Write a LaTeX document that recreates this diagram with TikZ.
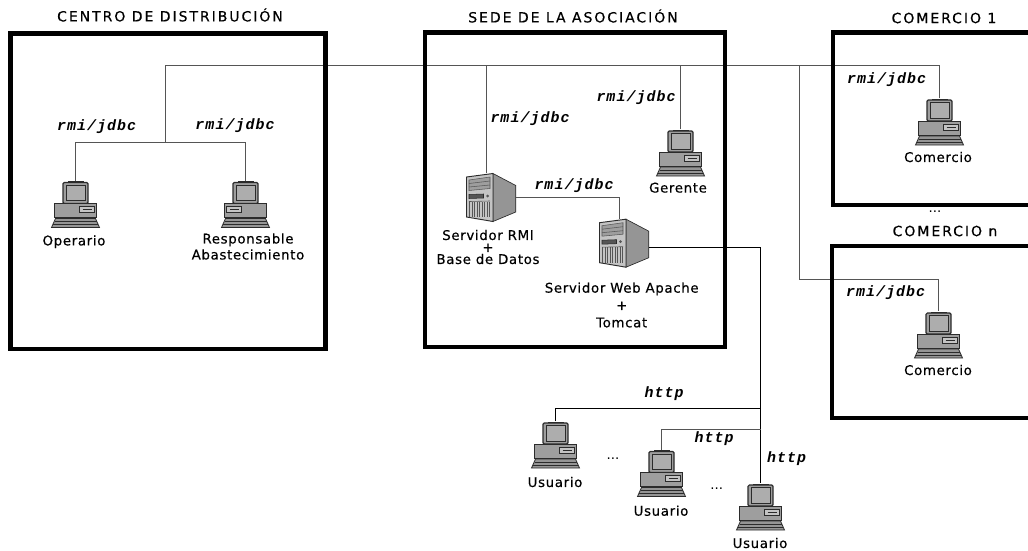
\documentclass[tikz,border=0pt]{standalone}
\usepackage{fontspec}
\setmainfont{DejaVu Sans}
\newfontfamily\protofont[LetterSpace=7]{Liberation Mono}
\newfontfamily\titlefont[LetterSpace=14,FakeBold=0.4]{DejaVu Sans}
\newfontfamily\capfont[LetterSpace=5,FakeBold=0.4]{DejaVu Sans}
\usepackage{tikz}

\definecolor{linegray}{HTML}{555555}
\definecolor{icongray}{HTML}{2B2B2B}
\definecolor{bodygray}{HTML}{9E9E9E}
\definecolor{screengray}{HTML}{ADADAD}
\definecolor{sidegray}{HTML}{959595}
\definecolor{frontgray}{HTML}{C4C4C4}

\tikzset{
	link/.style={color=linegray, line width=0.8pt},
	linkdark/.style={color=black, line width=0.75pt},
	areabox/.style={color=black, line width=3.2pt, line join=miter},
	area/.style={font=\titlefont\fontsize{10.5}{12}\selectfont},
	caption/.style={font=\capfont\fontsize{10}{12}\selectfont, align=center, inner sep=0pt},
	proto/.style={font=\protofont\bfseries\itshape\fontsize{11.2}{13}\selectfont, inner sep=0pt},
	dots/.style={font=\fontsize{10}{10}\selectfont, inner sep=0pt},
	pc/.pic={
		\node[minimum width=36pt, minimum height=35pt, inner sep=0pt] (-icon) at (0,0) {};
		% monitor
		\fill[icongray] (-8,-23.5) rectangle (8,-21);
		\draw[draw=icongray, fill=bodygray, line width=0.9pt, rounded corners=1pt] (-12.5,-22) rectangle (12.5,-1);
		\draw[draw=icongray, fill=screengray, line width=0.7pt] (-9.5,-19.5) rectangle (9.5,-4);
		% case
		\draw[draw=icongray, fill=bodygray, line width=0.7pt] (-21,-1) rectangle (21,13);
		\draw[draw=icongray, fill=frontgray, line width=0.7pt] (4,2) rectangle (19,8);
		\draw[draw=icongray, line width=0.7pt] (7,5) -- (16,5);
		% keyboard
		\draw[draw=icongray, fill=sidegray, line width=0.6pt] (-20,14) -- (20,14) -- (24,23) -- (-24,23) -- cycle;
		\draw[draw=icongray, line width=0.6pt] (-21,17) -- (21,17);
		\draw[draw=icongray, line width=0.6pt] (-22.5,20) -- (22.5,20);
	},
	server/.pic={
		\node[minimum width=44pt, minimum height=36pt, inner sep=0pt] (-icon) at (0,0) {};
		% side and front faces
		\draw[draw=icongray, fill=sidegray, line width=0.5pt] (6.5,-24) -- (29.3,-12) -- (29.3,14.5) -- (6.5,24) -- cycle;
		\draw[draw=icongray, fill=frontgray, line width=0.7pt] (-20,-20.5) -- (6.5,-24) -- (6.5,24) -- (-20,19.5) -- cycle;
		% drive bays
		\draw[draw=linegray, fill=bodygray, line width=0.4pt] (-17.5,-17.5) -- (3.5,-20.5) -- (3.5,-9) -- (-17.5,-7) -- cycle;
		\draw[draw=linegray, line width=0.4pt] (-17.5,-14) -- (3.5,-16.5);
		\draw[draw=linegray, line width=0.4pt] (-17.5,-10.5) -- (3.5,-12.5);
		% front band
		\draw[draw=icongray, fill=linegray, line width=0.4pt] (-17.5,-3) -- (-3,-3.5) -- (-3,0.5) -- (-17.5,1) -- cycle;
		\fill[linegray] (1,-1.5) circle (1.5);
		% vents
		\foreach \x in {-17,-14.5,...,3}
			\draw[draw=linegray, line width=0.45pt] (\x,4) -- (\x,19.5);
		\draw[draw=linegray, line width=0.45pt] (-17.5,4) -- (3.5,3.5);
	}
}

\begin{document}
\begin{tikzpicture}[x=0.75pt, y=-0.75pt]
	\useasboundingbox (0,0) rectangle (1028,550);

	% Computers and servers
	\pic (operario) at (75.5,204.5) {pc};
	\pic[xscale=-1] (responsable) at (245.5,204.5) {pc};
	\pic (gerente) at (680.5,153) {pc};
	\pic (comercioA) at (939.5,122) {pc};
	\pic (comercioN) at (938.5,335) {pc};
	\pic (usuarioA) at (555.5,445) {pc};
	\pic (usuarioB) at (661.5,473.5) {pc};
	\pic (usuarioC) at (760.5,507) {pc};
	\pic (rmi) at (486.5,197.5) {server};
	\pic (web) at (619.5,243.2) {server};

	% Junction points
	\coordinate (busLeft) at (165.5,65.5);
	\coordinate (busTap) at (799.5,65.5);
	\coordinate (distJoin) at (165.5,142.5);
	\coordinate (tapCorner) at (799.5,279.5);
	\coordinate (httpA) at (760.5,408.5);
	\coordinate (httpB) at (760.5,429.5);

	% rmi/jdbc lines
	\draw[link] (comercioA-icon.north) |- (busLeft) -- (distJoin);
	\draw[link] (operario-icon.north) |- (distJoin) -| (responsable-icon.north);
	\draw[link] (rmi-icon.north) -- (rmi-icon.north |- busLeft);
	\draw[link] (gerente-icon.north) -- (gerente-icon.north |- busLeft);
	\draw[link] (busTap) -- (tapCorner) -| (comercioN-icon.north);
	\draw[link] (rmi-icon.east) -| (web-icon.north);

	% http lines
	\draw[linkdark] ([yshift=-3.2pt]web-icon.east) -| (usuarioC-icon.north);
	\draw[linkdark] (usuarioA-icon.north) |- (httpA);
	\draw[link] (usuarioB-icon.north) |- (httpB);

	% Areas
	\draw[areabox] (10.5,33.5) rectangle (325.5,349);
	\draw[areabox] (424.7,32.5) rectangle (725,347);
	\draw[areabox] (1030,32.5) -- (833,32.5) -- (833,205) -- (1030,205);
	\draw[areabox] (1030,246) -- (832,246) -- (832,418) -- (1030,418);

	% Area titles
	\node[area] (tituloDist) at (170,15) {CENTRO DE DISTRIBUCIÓN};
	\node[area] (tituloSede) at (573,16) {SEDE DE LA ASOCIACIÓN};
	\node[area] (tituloComA) at (944,18) {COMERCIO 1};
	\node[dots] (puntosCom) at (935,212) {...};
	\node[area] (tituloComN) at (945,231) {COMERCIO n};

	% Captions
	\node[caption] (capOperario) at (74,241.7) {Operario};
	\node[caption] (capResponsable) at (248,246.5) {Responsable\\Abastecimiento};
	\node[caption] (capGerente) at (678,187.7) {Gerente};
	\node[caption] (capRmi) at (488,247) {Servidor RMI\\[-3pt]+\\[-3pt]Base de Datos};
	\node[caption] (capWeb) at (621.7,305) {Servidor Web Apache\\[1pt]+\\[1pt]Tomcat};
	\node[caption] (capComA) at (938,157) {Comercio};
	\node[caption] (capComN) at (938,370) {Comercio};
	\node[caption] (capUsuA) at (555,482) {Usuario};
	\node[caption] (capUsuB) at (661,510.7) {Usuario};
	\node[caption] (capUsuC) at (760,543) {Usuario};

	% Protocol labels
	\node[proto] (protoOperario) at (96.7,127) {rmi/jdbc};
	\node[proto] (protoResponsable) at (235,126) {rmi/jdbc};
	\node[proto] (protoRmi) at (530,119) {rmi/jdbc};
	\node[proto] (protoGerente) at (636,98) {rmi/jdbc};
	\node[proto] (protoServidores) at (574,186) {rmi/jdbc};
	\node[proto] (protoComA) at (886.7,80) {rmi/jdbc};
	\node[proto] (protoComN) at (885.7,292.7) {rmi/jdbc};
	\node[proto] (protoHttpA) at (664,394) {http};
	\node[proto] (protoHttpB) at (714,438.5) {http};
	\node[proto] (protoHttpC) at (786.7,459) {http};

	% Dots between users
	\node[dots] (puntosA) at (613,459) {...};
	\node[dots] (puntosB) at (716.7,489) {...};
\end{tikzpicture}
\end{document}
